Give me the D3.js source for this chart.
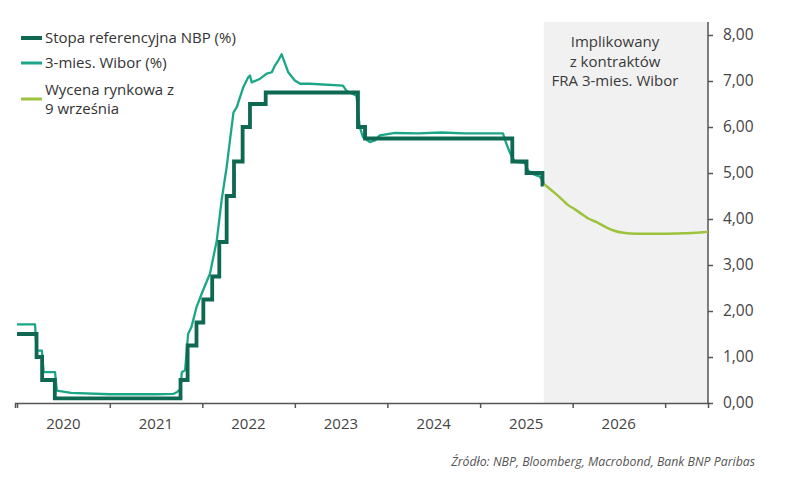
<!DOCTYPE html>
<html>
<head>
<meta charset="utf-8">
<script src="https://cdn.jsdelivr.net/npm/d3@7"></script>
<style>
  body { margin: 0; background: #fff; }
  svg { display: block; font-family: "Open Sans", sans-serif; }
</style>
</head>
<body>
<svg id="chart" width="812" height="477"></svg>
<script>
// NBP reference rate: date of change and new level
const nbpDates = ["2020-01-01", "2020-03-18", "2020-04-09", "2020-05-29", "2021-10-07", "2021-11-04",
  "2021-12-09", "2022-01-05", "2022-02-09", "2022-03-09", "2022-04-07", "2022-05-06", "2022-06-09",
  "2022-07-08", "2022-09-08", "2023-09-07", "2023-10-05", "2025-05-08", "2025-07-03", "2025-09-04", "2025-09-09"];
const nbpValues = [1.50, 1.00, 0.50, 0.10, 0.50, 1.25, 1.75, 2.25, 2.75, 3.50, 4.50, 5.25, 6.00,
  6.50, 6.75, 6.00, 5.75, 5.25, 5.00, 4.75, 4.75];

// 3M WIBOR
const wiborDates = ["2020-01-01", "2020-03-12", "2020-03-18", "2020-04-08", "2020-04-15", "2020-05-30",
  "2020-06-06", "2020-08-01", "2020-12-31", "2021-06-30", "2021-09-10", "2021-09-24", "2021-10-07",
  "2021-10-12", "2021-10-25", "2021-11-06", "2021-11-19", "2021-12-09", "2021-12-29", "2022-01-31",
  "2022-02-27", "2022-03-18", "2022-04-07", "2022-04-20", "2022-05-04", "2022-05-17", "2022-06-12",
  "2022-07-01", "2022-07-08", "2022-07-15", "2022-08-17", "2022-09-12", "2022-10-02", "2022-10-15",
  "2022-10-28", "2022-11-10", "2022-12-06", "2023-01-01", "2023-01-22", "2023-03-01", "2023-07-10",
  "2023-07-23", "2023-09-01", "2023-09-14", "2023-09-27", "2023-10-24", "2023-11-13", "2023-12-02",
  "2024-02-01", "2024-05-01", "2024-08-01", "2024-11-01", "2025-02-01", "2025-04-01", "2025-04-15",
  "2025-04-28", "2025-05-07", "2025-05-20", "2025-06-26", "2025-07-10", "2025-08-01", "2025-08-25",
  "2025-09-09"];
const wiborValues = [1.71, 1.71, 1.14, 1.14, 0.67, 0.67, 0.27, 0.22, 0.19, 0.19, 0.20, 0.24, 0.30,
  0.67, 0.71, 1.50, 1.65, 2.08, 2.37, 2.81, 3.53, 4.40, 5.13, 5.71, 6.32, 6.43, 6.87,
  7.08, 7.12, 6.97, 7.05, 7.16, 7.19, 7.34, 7.45, 7.58, 7.19, 7.01, 6.94, 6.94, 6.90,
  6.79, 6.68, 6.00, 5.78, 5.67, 5.71, 5.82, 5.87, 5.86, 5.88, 5.86, 5.86, 5.86, 5.63,
  5.45, 5.34, 5.24, 5.22, 5.05, 4.97, 4.92, 4.78];

// market pricing (FRA 3M WIBOR) as of 9 September
const fraDates = ["2025-09-09", "2025-10-15", "2025-11-25", "2025-12-08", "2026-01-10", "2026-02-13",
  "2026-03-04", "2026-04-06", "2026-05-10", "2026-06-11", "2026-07-20", "2026-09-11", "2026-12-23",
  "2027-03-15", "2027-05-30", "2027-06-19"];
const fraValues = [4.76, 4.60, 4.40, 4.33, 4.21, 4.08, 4.01, 3.93, 3.83, 3.75, 3.70, 3.68, 3.68,
  3.69, 3.71, 3.72];

const yTicks = [0, 1, 2, 3, 4, 5, 6, 7, 8];
const yearLabels = ["2020", "2021", "2022", "2023", "2024", "2025", "2026"];
const forecastStart = "2025-09-09";

const legendItems = [
  { lines: ["Stopa referencyjna NBP (%)"], color: "#0e6852", width: 4, y: 43 },
  { lines: ["3-mies. Wibor (%)"], color: "#1ba688", width: 3, y: 68 },
  { lines: ["Wycena rynkowa z", "9 września"], color: "#9cc33d", width: 3, y: 94.5 }
];

const parse = d3.timeParse("%Y-%m-%d");
const toPoints = (dates, values) => dates.map((d, i) => ({ date: parse(d), value: values[i] }));
const nbp = toPoints(nbpDates, nbpValues);
const wibor = toPoints(wiborDates, wiborValues);
const fra = toPoints(fraDates, fraValues);

const svg = d3.select("#chart");
const plotLeft = 15, plotRight = 708, plotTop = 22, plotBottom = 403;

const x = d3.scaleTime()
  .domain([parse("2019-12-24"), parse("2027-06-19")])
  .range([plotLeft, plotRight]);
const y = d3.scaleLinear().domain([0, 8]).range([plotBottom, plotBottom - 8 * 46]);

// shaded forecast area
svg.append("rect")
  .attr("x", x(parse(forecastStart)))
  .attr("y", plotTop)
  .attr("width", plotRight - x(parse(forecastStart)))
  .attr("height", plotBottom - plotTop)
  .attr("fill", "#f1f1f1");

const noteX = 615;
svg.append("text")
  .attr("text-anchor", "middle")
  .attr("font-size", 15)
  .attr("fill", "#3a3a3a")
  .selectAll("tspan")
  .data(["Implikowany", "z kontraktów", "FRA 3-mies. Wibor"])
  .enter().append("tspan")
  .attr("x", noteX)
  .attr("y", (d, i) => 47 + i * 19.5)
  .text(d => d);

// x axis
const yearTicks = d3.timeYear.range(parse("2020-01-01"), parse("2027-02-01"));
const xAxis = svg.append("g")
  .attr("transform", "translate(0," + plotBottom + ")")
  .call(d3.axisBottom(x).tickValues(yearTicks).tickSize(5).tickFormat(""));
xAxis.select(".domain").attr("stroke", "#555").attr("stroke-width", 1.5);
xAxis.selectAll(".tick line").attr("stroke", "#555").attr("stroke-width", 1.5);

svg.append("g").selectAll("text")
  .data(yearLabels)
  .enter().append("text")
  .attr("x", d => x(parse(d + "-07-02")))
  .attr("y", 429)
  .attr("text-anchor", "middle")
  .attr("font-size", 15)
  .attr("fill", "#444")
  .text(d => d);

// y axis on the right
const yAxis = svg.append("g")
  .attr("transform", "translate(" + plotRight + ",0)")
  .call(d3.axisRight(y).tickValues(yTicks).tickSize(5).tickPadding(10)
    .tickFormat(d => d3.format(".2f")(d).replace(".", ",")));
yAxis.select(".domain").attr("stroke", "#555").attr("stroke-width", 1.5)
  .attr("d", "M0," + plotTop + "V" + plotBottom);
yAxis.selectAll(".tick line").attr("stroke", "#555").attr("stroke-width", 1.5);
yAxis.selectAll(".tick text")
  .attr("font-family", "Open Sans, sans-serif")
  .attr("font-size", 15.5)
  .attr("fill", "#444");

// lines
const line = d3.line().x(d => x(d.date)).y(d => y(d.value));
const stepLine = d3.line().x(d => x(d.date)).y(d => y(d.value)).curve(d3.curveStepAfter);

svg.append("path").datum(fra)
  .attr("d", line.curve(d3.curveMonotoneX))
  .attr("fill", "none").attr("stroke", "#9cc33d").attr("stroke-width", 2.5);

svg.append("path").datum(wibor)
  .attr("d", d3.line().x(d => x(d.date)).y(d => y(d.value)))
  .attr("fill", "none").attr("stroke", "#1ba688").attr("stroke-width", 2.3)
  .attr("stroke-linejoin", "round");

svg.append("path").datum(nbp)
  .attr("d", stepLine)
  .attr("fill", "none").attr("stroke", "#0e6852").attr("stroke-width", 3.8);

// legend
legendItems.forEach(item => {
  const g = svg.append("g");
  const n = item.lines.length;
  const mid = item.y - 5 + (n - 1) * 9.5;
  g.append("line")
    .attr("x1", 21).attr("x2", 42)
    .attr("y1", mid).attr("y2", mid)
    .attr("stroke", item.color).attr("stroke-width", item.width);
  item.lines.forEach((t, i) => {
    g.append("text")
      .attr("x", 45).attr("y", item.y + i * 19)
      .attr("font-size", 15)
      .attr("fill", "#333")
      .text(t);
  });
});

// source
svg.append("text")
  .attr("x", 755).attr("y", 466)
  .attr("text-anchor", "end")
  .attr("font-size", 12.3)
  .attr("font-style", "italic")
  .attr("fill", "#555")
  .text("Źródło: NBP, Bloomberg, Macrobond, Bank BNP Paribas");
</script>
</body>
</html>
